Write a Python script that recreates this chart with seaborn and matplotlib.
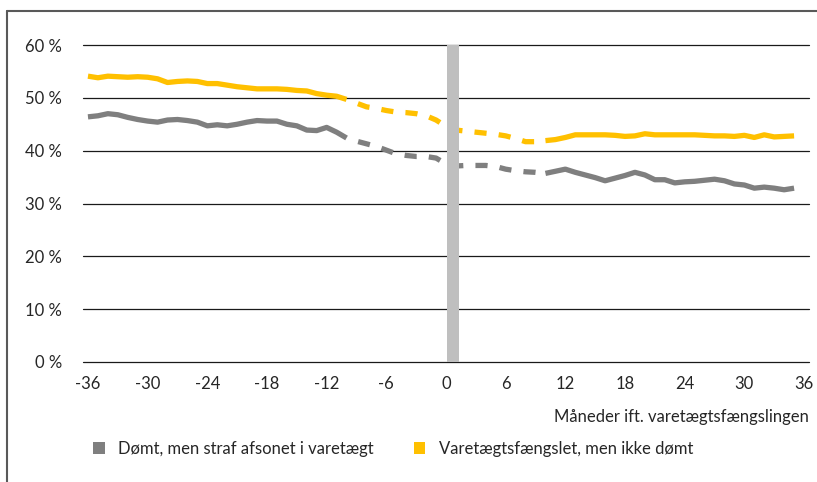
import numpy as np
import pandas as pd
import matplotlib
matplotlib.use("Agg")
import matplotlib.pyplot as plt
import seaborn as sns
from matplotlib.patches import Patch
from matplotlib.lines import Line2D

# ---------------- data ----------------
months = list(range(-36, 36))

doemt_afsonet = [
    46.4, 46.6, 47.0, 46.8, 46.3, 45.9, 45.6, 45.4, 45.8, 45.9,
    45.7, 45.4, 44.7, 44.9, 44.7, 45.0, 45.4, 45.7, 45.6, 45.6,
    45.0, 44.7, 43.9, 43.8, 44.4, 43.5, 42.4, 41.8, 41.3, 40.8,
    40.1, 39.4, 39.1, 38.9, 38.9, 38.6, 37.5, 37.1, 37.2, 37.2,
    37.2, 37.0, 36.5, 36.2, 36.0, 35.9, 35.7, 36.1, 36.5, 35.9,
    35.4, 34.9, 34.3, 34.8, 35.3, 35.9, 35.4, 34.5, 34.5, 33.9,
    34.1, 34.2, 34.4, 34.6, 34.3, 33.7, 33.5, 32.9, 33.1, 32.9,
    32.6, 32.9,
]

ikke_doemt = [
    54.1, 53.8, 54.1, 54.0, 53.9, 54.0, 53.9, 53.6, 52.9, 53.1,
    53.2, 53.1, 52.7, 52.7, 52.4, 52.1, 51.9, 51.7, 51.7, 51.7,
    51.6, 51.4, 51.3, 50.8, 50.5, 50.3, 49.7, 49.0, 48.3, 48.0,
    47.6, 47.3, 47.2, 47.0, 46.6, 45.8, 44.6, 43.9, 43.7, 43.5,
    43.3, 43.1, 42.8, 42.3, 41.7, 41.7, 41.9, 42.1, 42.5, 43.0,
    43.0, 43.0, 43.0, 42.9, 42.7, 42.8, 43.2, 43.0, 43.0, 43.0,
    43.0, 43.0, 42.9, 42.8, 42.8, 42.7, 42.9, 42.5, 43.0, 42.6,
    42.7, 42.8,
]

series_names = ["Dømt, men straf afsonet i varetægt",
                "Varetægtsfængslet, men ikke dømt"]
x_ticks = list(range(-36, 37, 6))
x_ticklabels = [str(v) for v in x_ticks]
y_ticks = [0, 10, 20, 30, 40, 50, 60]
y_ticklabels = [f"{v} %" for v in y_ticks]
x_label = "Måneder ift. varetægtsfængslingen"

# ---------------- style ----------------
GRAY = "#7F7F7F"
GOLD = "#FFC000"
BAR = "#BFBFBF"
TXT = "#262626"

sns.set_style("white")
plt.rcParams["font.family"] = ["Lato", "DejaVu Sans"]

df = pd.concat([
    pd.DataFrame({"month": months, "value": doemt_afsonet, "series": series_names[0]}),
    pd.DataFrame({"month": months, "value": ikke_doemt, "series": series_names[1]}),
])

fig = plt.figure(figsize=(8.17, 4.82), dpi=100)
ax = fig.add_axes([83 / 817, 1 - 362 / 482, (809 - 83) / 817, (362 - 45) / 482])

LW = 3.8
dash_style = (2.3, (2.3, 2.3))
colors = {series_names[0]: GRAY, series_names[1]: GOLD}

for name in series_names:
    sub = df[df["series"] == name]
    segs = [
        (sub[sub["month"] <= -10], "-"),
        (sub[(sub["month"] >= -10) & (sub["month"] <= 10)], dash_style),
        (sub[sub["month"] >= 10], "-"),
    ]
    for seg, ls in segs:
        sns.lineplot(data=seg, x="month", y="value", ax=ax, color=colors[name],
                     lw=LW, linestyle=ls, estimator=None, errorbar=None,
                     solid_capstyle="butt", dash_capstyle="butt",
                     solid_joinstyle="round", zorder=4, legend=False)

# horizontal gridlines
for yv in y_ticks:
    ax.axhline(yv, color="#1A1A1A", lw=0.9, zorder=2, clip_on=False)

# grey marker bar at varetægtsfængsling
ax.axvspan(0.1, 1.3, ymin=0, ymax=1, color=BAR, lw=0, zorder=5)

ax.set_xlim(-36.5, 36.5)
ax.set_ylim(0, 60)
ax.set_xticks(x_ticks)
ax.set_xticklabels(x_ticklabels)
ax.set_yticks(y_ticks)
ax.set_yticklabels(y_ticklabels)
ax.tick_params(axis="both", length=0, labelsize=12, colors=TXT)
ax.tick_params(axis="x", pad=10)
ax.tick_params(axis="y", pad=15)
for s in ax.spines.values():
    s.set_visible(False)
ax.set_ylabel("")
ax.set_xlabel(x_label, loc="right", fontsize=12, color=TXT, labelpad=12)

handles = [Patch(facecolor=GRAY, edgecolor="none"),
           Patch(facecolor=GOLD, edgecolor="none")]
fig.legend(handles, series_names, ncol=2, frameon=False,
           loc="center left", bbox_to_anchor=(78 / 817, 1 - 449 / 482),
           handlelength=0.7, handleheight=0.7, handletextpad=0.8,
           columnspacing=2.4, fontsize=12, labelcolor=TXT)

# outer frame (top & left)
fig.add_artist(Line2D([7 / 817, 1.0], [1 - 11 / 482, 1 - 11 / 482],
                      color="#595959", lw=1.5, transform=fig.transFigure))
fig.add_artist(Line2D([7 / 817, 7 / 817], [0, 1 - 11 / 482],
                      color="#595959", lw=1.5, transform=fig.transFigure))

fig.savefig("out.png", dpi=100)
